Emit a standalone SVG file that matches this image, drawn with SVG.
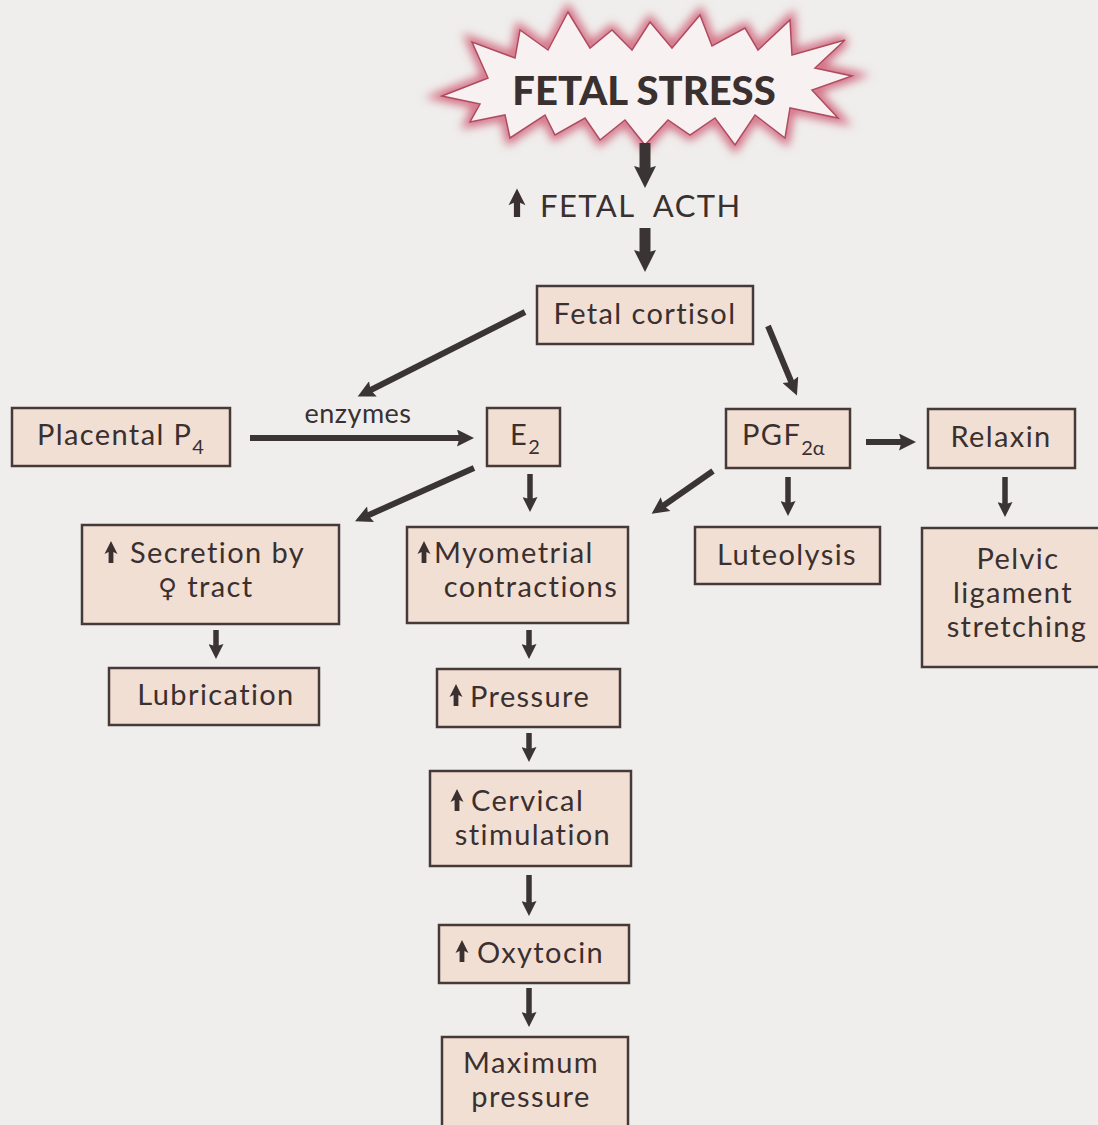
<svg xmlns="http://www.w3.org/2000/svg" xmlns:xlink="http://www.w3.org/1999/xlink" width="1098" height="1125" viewBox="0 0 1098 1125">
<defs>
<style>
.bx{fill:#f2dfd3;stroke:#463a39;stroke-width:2.5}
.t{font-family:Lato,"Open Sans","DejaVu Sans",sans-serif;font-size:29px;letter-spacing:1.4px;fill:#3a3030}
.m{text-anchor:middle}
.sub{font-size:20px;letter-spacing:0}
.ar{stroke:#3a3434;fill:none}
.big{stroke-width:11;marker-end:url(#hb)}
.med{stroke-width:6;marker-end:url(#hm)}
.sm{stroke-width:5.5;marker-end:url(#hs)}
</style>
<marker id="hb" viewBox="0 0 10 10" refX="4" refY="5" markerUnits="userSpaceOnUse" markerWidth="22" markerHeight="26" orient="auto"><path d="M0,0 L10,5 L0,10 L1.5,5 Z" fill="#3a3434"/></marker>
<marker id="hm" viewBox="0 0 10 10" refX="4" refY="5" markerUnits="userSpaceOnUse" markerWidth="22" markerHeight="17" orient="auto"><path d="M0,0 L10,5 L0,10 L1.5,5 Z" fill="#3a3434"/></marker>
<marker id="hs" viewBox="0 0 10 10" refX="4" refY="5" markerUnits="userSpaceOnUse" markerWidth="17" markerHeight="15" orient="auto"><path d="M0,0 L10,5 L0,10 L1.5,5 Z" fill="#3a3434"/></marker>
<path id="up" d="M0,-12 L6.5,1 L2.4,-1 L2.4,10 L-2.4,10 L-2.4,-1 L-6.5,1 Z" fill="#3a3030"/>
<filter id="glow" x="-10%" y="-30%" width="120%" height="160%"><feGaussianBlur stdDeviation="5"/></filter>
</defs>
<rect width="1098" height="1125" fill="#efeeec"/>

<g id="fetal-stress">
<polygon filter="url(#glow)" fill="none" stroke="#d26a80" stroke-width="10" points="442,96 488,78 472,42 515,58 520,30 548,50 568,12 590,48 612,30 632,50 650,22 672,48 700,15 712,46 745,28 758,50 790,20 792,55 845,40 815,68 852,76 812,90 838,118 790,108 785,138 755,115 735,145 715,118 690,135 668,120 645,145 625,120 600,140 585,118 555,135 545,115 510,138 505,115 470,122 480,104"/>
<polygon fill="#f7f1f1" stroke="#b04a60" stroke-width="1.5" points="442,96 488,78 472,42 515,58 520,30 548,50 568,12 590,48 612,30 632,50 650,22 672,48 700,15 712,46 745,28 758,50 790,20 792,55 845,40 815,68 852,76 812,90 838,118 790,108 785,138 755,115 735,145 715,118 690,135 668,120 645,145 625,120 600,140 585,118 555,135 545,115 510,138 505,115 470,122 480,104"/>
<text class="t m" x="644" y="105" style="font-size:40px;font-weight:900;letter-spacing:0">FETAL STRESS</text>
</g>

<g id="fetal-acth">
<use xlink:href="#up" transform="translate(517,204) scale(1.3)"/>
<text class="t" x="540" y="217" style="font-size:31px;word-spacing:10px">FETAL ACTH</text>
</g>

<g id="fetal-cortisol"><rect class="bx" x="537" y="286" width="216" height="58"/><text class="t m" x="645" y="324">Fetal cortisol</text></g>
<g id="placental-p4"><rect class="bx" x="12" y="408" width="218" height="58"/><text class="t" x="37" y="445">Placental P<tspan class="sub" dy="9">4</tspan></text></g>
<g id="e2"><rect class="bx" x="487" y="408" width="73" height="58"/><text class="t" x="510" y="445">E<tspan class="sub" dy="9">2</tspan></text></g>
<g id="pgf2a"><rect class="bx" x="726" y="409" width="124" height="59"/><text class="t" x="742" y="445">PGF<tspan class="sub" dy="10">2α</tspan></text></g>
<g id="relaxin"><rect class="bx" x="928" y="409" width="147" height="59"/><text class="t m" x="1001" y="447">Relaxin</text></g>
<g id="secretion"><rect class="bx" x="82" y="525" width="257" height="99"/><use xlink:href="#up" transform="translate(111,553)"/><text class="t" x="130" y="563">Secretion by</text><text class="t" x="158" y="597"><tspan style="font-family:'DejaVu Sans',sans-serif;font-size:26px">♀</tspan> tract</text></g>
<g id="myometrial"><rect class="bx" x="407" y="527" width="221" height="96"/><use xlink:href="#up" transform="translate(424,553)"/><text class="t" x="434" y="563">Myometrial</text><text class="t m" x="531" y="597">contractions</text></g>
<g id="luteolysis"><rect class="bx" x="695" y="527" width="185" height="57"/><text class="t m" x="787" y="565">Luteolysis</text></g>
<g id="pelvic"><rect class="bx" x="922" y="528" width="180" height="139"/><text class="t m" x="1018" y="569">Pelvic</text><text class="t m" x="1013" y="603">ligament</text><text class="t m" x="1017" y="637">stretching</text></g>
<g id="lubrication"><rect class="bx" x="109" y="668" width="210" height="57"/><text class="t m" x="216" y="705">Lubrication</text></g>
<g id="pressure"><rect class="bx" x="437" y="669" width="183" height="58"/><use xlink:href="#up" transform="translate(456,696)"/><text class="t" x="470" y="707">Pressure</text></g>
<g id="cervical"><rect class="bx" x="430" y="771" width="201" height="95"/><use xlink:href="#up" transform="translate(457,801)"/><text class="t" x="471" y="811">Cervical</text><text class="t m" x="533" y="845">stimulation</text></g>
<g id="oxytocin"><rect class="bx" x="439" y="925" width="190" height="58"/><use xlink:href="#up" transform="translate(462,952)"/><text class="t" x="477" y="963">Oxytocin</text></g>
<g id="maximum-pressure"><rect class="bx" x="442" y="1037" width="186" height="95"/><text class="t m" x="531" y="1073">Maximum</text><text class="t m" x="531" y="1107">pressure</text></g>

<g id="connectors" class="ar">
<line class="ar big" x1="645" y1="143" x2="645" y2="174.8"/>
<line class="ar big" x1="645" y1="228" x2="645" y2="258.8"/>
<line class="ar med" x1="525" y1="312" x2="366.8" y2="392"/>
<line class="ar med" x1="768" y1="326" x2="793" y2="386"/>
<line class="ar med" x1="250" y1="438" x2="463.8" y2="438"/>
<line class="ar med" x1="474" y1="468" x2="364.3" y2="517"/>
<line class="ar sm" x1="530" y1="474" x2="530" y2="503"/>
<line class="ar med" x1="713" y1="471" x2="660" y2="508"/>
<line class="ar sm" x1="788" y1="477" x2="788" y2="507"/>
<line class="ar med" x1="866" y1="442" x2="905.8" y2="442"/>
<line class="ar sm" x1="1005" y1="477" x2="1005" y2="508"/>
<line class="ar sm" x1="216" y1="630" x2="216" y2="650"/>
<line class="ar sm" x1="529" y1="630" x2="529" y2="650"/>
<line class="ar sm" x1="529" y1="733" x2="529" y2="753"/>
<line class="ar sm" x1="529" y1="875" x2="529" y2="907"/>
<line class="ar sm" x1="529" y1="988" x2="529" y2="1018"/>
</g>
<text class="t m" x="358" y="423" style="font-size:27px;letter-spacing:0.5px">enzymes</text>
</svg>
